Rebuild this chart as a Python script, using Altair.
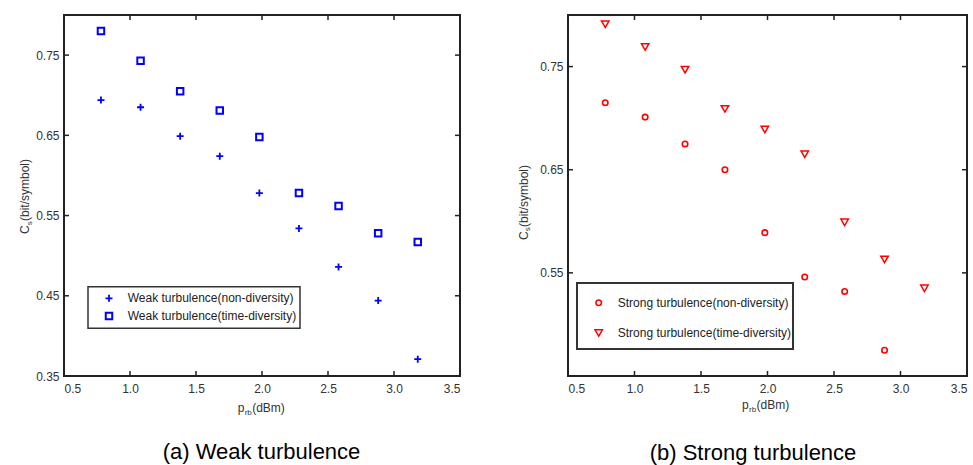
import altair as alt
import pandas as pd

# ---------------- data ----------------
x_vals = [0.78, 1.08, 1.38, 1.68, 1.98, 2.28, 2.58, 2.88, 3.18]
weak_non = [0.694, 0.685, 0.649, 0.624, 0.578, 0.534, 0.486, 0.444, 0.371]
weak_time = [0.780, 0.743, 0.705, 0.681, 0.648, 0.578, 0.562, 0.528, 0.517]
strong_non = [0.715, 0.701, 0.675, 0.650, 0.589, 0.546, 0.532, 0.475]
strong_time = [0.791, 0.769, 0.747, 0.709, 0.689, 0.665, 0.599, 0.563, 0.535]

x_ticks = [0.5, 1, 1.5, 2, 2.5, 3, 3.5]
y_ticks_weak = [0.35, 0.45, 0.55, 0.65, 0.75]
y_ticks_strong = [0.55, 0.65, 0.75]

legend_weak = ["Weak turbulence(non-diversity)", "Weak turbulence(time-diversity)"]
legend_strong = ["Strong turbulence(non-diversity)", "Strong turbulence(time-diversity)"]
captions = ["(a)  Weak turbulence", "(b) Strong turbulence"]

FONT = "Liberation Sans"
FRAME = "#222222"
H = 361
PLUS = "M-1,0L1,0M0,-1L0,1"

dummy = pd.DataFrame({"d": [0]})


def txt(text, x, y, size=12, angle=0, align="left", color="black"):
    return alt.Chart(dummy).mark_text(
        text=text, font=FONT, fontSize=size, angle=angle, align=align,
        baseline="middle", color=color
    ).encode(x=alt.value(x), y=alt.value(y))


def panel(W, ydom, yticks, series, legend_labels, legend_box, legend_rows,
          caption, cap_x, cap_y, xt_pos, yt_pos, box_sw):
    xs = alt.Scale(domain=[0.5, 3.5], nice=False, zero=False)
    ys = alt.Scale(domain=ydom, nice=False, zero=False)
    xa = alt.Axis(values=x_ticks, title=None, ticks=False, domain=False,
                  grid=False, labelPadding=7, labelFont=FONT, labelFontSize=12,
                  labelColor="#333333")
    ya = alt.Axis(values=yticks, format=".2f", title=None, ticks=False,
                  domain=False, grid=False, labelPadding=5, labelFont=FONT,
                  labelFontSize=12, labelColor="#333333",
                  minExtent=63, maxExtent=63)
    layers = []
    for vals, shape, size, sw, color in series:
        df = pd.DataFrame({"x": x_vals[:len(vals)], "y": vals})
        layers.append(
            alt.Chart(df).mark_point(shape=shape, filled=False, size=size,
                                     strokeWidth=sw, color=color, opacity=1)
            .encode(x=alt.X("x:Q", scale=xs, axis=xa),
                    y=alt.Y("y:Q", scale=ys, axis=ya))
        )
    # inward ticks on all four sides
    xt = pd.DataFrame({"x": x_ticks})
    yt = pd.DataFrame({"y": yticks})
    layers.append(alt.Chart(xt).mark_rule(color=FRAME, strokeWidth=1.5).encode(
        x=alt.X("x:Q", scale=xs, axis=xa), y=alt.value(H), y2=alt.value(H - 5)))
    layers.append(alt.Chart(xt).mark_rule(color=FRAME, strokeWidth=1.5).encode(
        x=alt.X("x:Q", scale=xs, axis=xa), y=alt.value(0), y2=alt.value(5)))
    layers.append(alt.Chart(yt).mark_rule(color=FRAME, strokeWidth=1.5).encode(
        y=alt.Y("y:Q", scale=ys, axis=ya), x=alt.value(0), x2=alt.value(5)))
    layers.append(alt.Chart(yt).mark_rule(color=FRAME, strokeWidth=1.5).encode(
        y=alt.Y("y:Q", scale=ys, axis=ya), x=alt.value(W - 5), x2=alt.value(W)))

    # legend box
    bx0, by0, bx1, by1 = legend_box
    layers.append(alt.Chart(dummy).mark_rect(fill="white", stroke="#333333",
                                             strokeWidth=box_sw).encode(
        x=alt.value(bx0), x2=alt.value(bx1), y=alt.value(by0), y2=alt.value(by1)))
    for (vals, shape, size, sw, color), label, (sx, sy, tx) in zip(series, legend_labels, legend_rows):
        layers.append(alt.Chart(dummy).mark_point(shape=shape, filled=False, size=size,
                                                  strokeWidth=sw, color=color, opacity=1)
                      .encode(x=alt.value(sx), y=alt.value(sy)))
        layers.append(txt(label, tx, sy, size=12, color="#222222"))

    # axis titles with subscripts
    px, py = xt_pos
    layers.append(txt("p", px, py, 12, color="#333333"))
    layers.append(txt("rb", px + 7, py + 5, 8, color="#333333"))
    layers.append(txt("(dBm)", px + 14.5, py, 12, color="#333333"))
    cx, cy = yt_pos
    layers.append(txt("C", cx, cy, 12, angle=270, color="#333333"))
    layers.append(txt("s", cx + 4.5, cy - 8.7, 8, angle=270, color="#333333"))
    layers.append(txt("(bit/symbol)", cx, cy - 13, 12, angle=270, color="#333333"))

    # caption
    layers.append(txt(caption, cap_x, cap_y, 22, align="center", color="black"))

    return alt.layer(*layers).properties(width=W, height=H)


left = panel(
    396, [0.35, 0.8], y_ticks_weak,
    [(weak_non, PLUS, 49, 1.8, "#0000FF"), (weak_time, "square", 42, 2, "#0000FF")],
    legend_weak, (24, 271.7, 236, 313.3),
    [(45, 283.3, 63.7), (45, 301, 63.7)],
    captions[0], 197.5, 437, (173.7, 392.7), (-39, 219), 1.5,
)
right = panel(
    399, [0.45, 0.8], y_ticks_strong,
    [(strong_non, "circle", 30, 1.6, "#FF0000"), (strong_time, "triangle-down", 55, 1.5, "#FF0000")],
    legend_strong, (9, 268, 225, 334),
    [(30.7, 287.7, 49.7), (30.7, 318, 49.7)],
    captions[1], 185, 437.5, (174, 390), (-44.5, 225), 2,
)

chart = alt.hconcat(left, right, spacing=108, bounds="flush").properties(
    padding={"left": 0, "top": 13, "right": 0, "bottom": 0}
).configure_view(stroke=FRAME, strokeWidth=2)

chart.save("out.html", embed_options={"renderer": "svg", "actions": False})
